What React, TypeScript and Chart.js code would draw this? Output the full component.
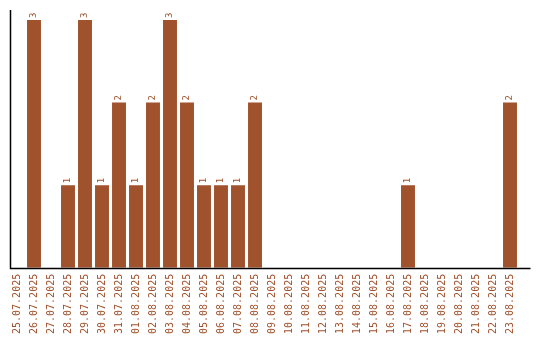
import React, { useEffect, useRef } from "react";
import { Chart, registerables } from "chart.js";

Chart.register(...registerables);

const categories: string[] = [
  "25.07.2025", "26.07.2025", "27.07.2025", "28.07.2025", "29.07.2025",
  "30.07.2025", "31.07.2025", "01.08.2025", "02.08.2025", "03.08.2025",
  "04.08.2025", "05.08.2025", "06.08.2025", "07.08.2025", "08.08.2025",
  "09.08.2025", "10.08.2025", "11.08.2025", "12.08.2025", "13.08.2025",
  "14.08.2025", "15.08.2025", "16.08.2025", "17.08.2025", "18.08.2025",
  "19.08.2025", "20.08.2025", "21.08.2025", "22.08.2025", "23.08.2025",
];

const counts: number[] = [
  0, 3, 0, 1, 3,
  1, 2, 1, 2, 3,
  2, 1, 1, 1, 2,
  0, 0, 0, 0, 0,
  0, 0, 0, 1, 0,
  0, 0, 0, 0, 2,
];

const yMin = 0;
const yMax = 3.12;

const BROWN = "#a0522d";
const MONO = "'DejaVu Sans Mono', monospace";

const barLabels = {
  id: "barLabels",
  afterDatasetsDraw(chart: any) {
    const ctx = chart.ctx;
    const meta = chart.getDatasetMeta(0);
    const data = chart.data.datasets[0].data as number[];
    ctx.save();
    ctx.fillStyle = BROWN;
    ctx.font = `9px ${MONO}`;
    ctx.textAlign = "left";
    ctx.textBaseline = "middle";
    meta.data.forEach((el: any, i: number) => {
      const v = data[i];
      if (!v) return;
      ctx.save();
      ctx.translate(el.x, el.y - 2);
      ctx.rotate(-Math.PI / 2);
      ctx.fillText(String(v), 0, 0);
      ctx.restore();
    });
    ctx.restore();
  },
};

const axisLines = {
  id: "axisLines",
  afterDatasetsDraw(chart: any) {
    const { ctx, chartArea } = chart;
    const x0 = Math.round(chartArea.left + 1.5) + 0.5;
    const yb = Math.round(chartArea.bottom) + 0.5;
    ctx.save();
    ctx.strokeStyle = "#000";
    ctx.lineWidth = 1.5;
    ctx.beginPath();
    ctx.moveTo(x0, Math.round(chartArea.top));
    ctx.lineTo(x0, yb);
    ctx.lineTo(chartArea.right + 12, yb);
    ctx.stroke();
    ctx.restore();
  },
};

export default function App() {
  const ref = useRef<HTMLCanvasElement | null>(null);

  useEffect(() => {
    document.body.style.margin = "0";
    const canvas = ref.current;
    if (!canvas) return;
    const chart = new Chart(canvas, {
      type: "bar",
      data: {
        labels: categories,
        datasets: [
          {
            data: counts,
            backgroundColor: BROWN,
            borderWidth: 0,
            barPercentage: 0.82,
            categoryPercentage: 1,
          },
        ],
      },
      options: {
        animation: false,
        responsive: false,
        maintainAspectRatio: false,
        layout: { padding: { left: 8.5, right: 21.5, top: 10, bottom: 0 } },
        plugins: {
          legend: { display: false },
          tooltip: { enabled: false },
          title: { display: false },
        },
        scales: {
          x: {
            grid: { display: false, drawTicks: false },
            border: { display: false },
            ticks: {
              autoSkip: false,
              maxRotation: 90,
              minRotation: 90,
              padding: 6,
              color: BROWN,
              font: { family: MONO, size: 10 },
            },
          },
          y: {
            min: yMin,
            max: yMax,
            grid: { display: false, drawTicks: false },
            border: { display: false },
            ticks: { display: false },
          },
        },
      },
      plugins: [barLabels, axisLines],
    });
    return () => chart.destroy();
  }, []);

  return (
    <div style={{ width: 540, height: 340 }}>
      <canvas ref={ref} width={540} height={340} style={{ display: "block" }} />
    </div>
  );
}
